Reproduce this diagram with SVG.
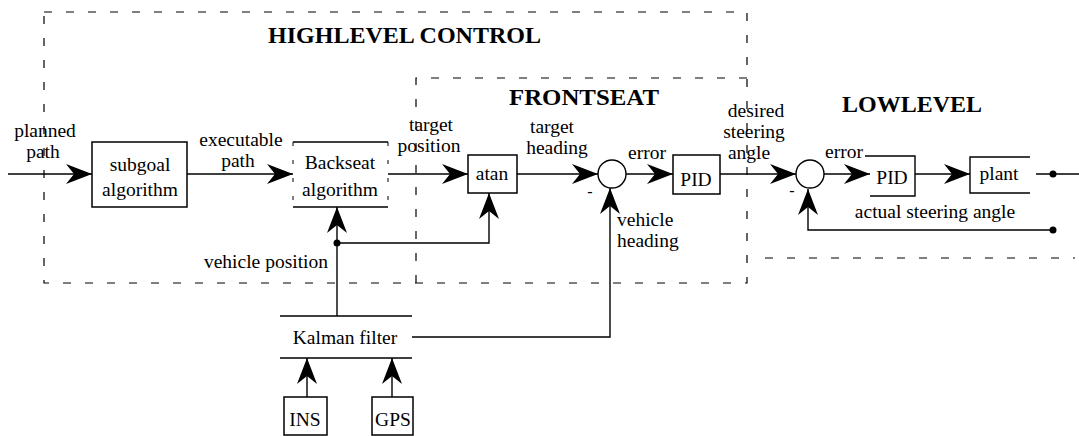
<svg xmlns="http://www.w3.org/2000/svg" width="1079" height="436" viewBox="0 0 1079 436">
<style>
.t{font-family:"Liberation Serif","Times New Roman",serif;font-size:19.5px;fill:#000;text-anchor:middle}
.ts{text-anchor:start}
.te{text-anchor:end}
.h{font-family:"Liberation Serif","Times New Roman",serif;font-size:23px;font-weight:bold;fill:#000}
.ln{fill:none;stroke:#000;stroke-width:1.4}
.bx{fill:#fff;stroke:#000;stroke-width:1.5}
.dash{fill:none;stroke:#000;stroke-width:1.2;stroke-dasharray:8 14}
.sd{fill:none;stroke:#000;stroke-width:1;stroke-dasharray:4 14}
</style>
<defs>
<marker id="arr" viewBox="0 0 26 20" refX="26" refY="10" markerWidth="26" markerHeight="20" markerUnits="userSpaceOnUse" orient="auto">
<path d="M0,0 L26,10 L0,20 L8,10 Z" fill="#000"/>
</marker>
</defs>
<rect width="1079" height="436" fill="#fff"/>

<g id="regions">
<path class="dash" d="M44,12 H747 V283 H44 Z"/>
<path class="dash" d="M416,283 V78 H747"/>
<path class="dash" d="M765,258 H1075"/>
<text class="h" x="268" y="43" textLength="273" lengthAdjust="spacingAndGlyphs">HIGHLEVEL CONTROL</text>
<text class="h" x="509" y="105" textLength="150" lengthAdjust="spacingAndGlyphs">FRONTSEAT</text>
<text class="h" x="842" y="112" textLength="140" lengthAdjust="spacingAndGlyphs">LOWLEVEL</text>
</g>

<g id="connectors">
<path class="ln" d="M8,174 H92" marker-end="url(#arr)"/>
<path class="ln" d="M187,174 H293" marker-end="url(#arr)"/>
<path class="ln" d="M388,174 H468" marker-end="url(#arr)"/>
<path class="ln" d="M517,174 H598" marker-end="url(#arr)"/>
<path class="ln" d="M626,174 H673" marker-end="url(#arr)"/>
<path class="ln" d="M720,174 H796" marker-end="url(#arr)"/>
<path class="ln" d="M824,174 H870" marker-end="url(#arr)"/>
<path class="ln" d="M915,174 H970" marker-end="url(#arr)"/>
<path class="ln" d="M1036,174 H1079"/>
<path class="ln" d="M337,316 V207" marker-end="url(#arr)"/>
<path class="ln" d="M337,243 H489 V193" marker-end="url(#arr)"/>
<path class="ln" d="M412,337 H610 V188" marker-end="url(#arr)"/>
<path class="ln" d="M1053,230 H808 V189" marker-end="url(#arr)"/>
<path class="ln" d="M307,397 V358" marker-end="url(#arr)"/>
<path class="ln" d="M392,397 V358" marker-end="url(#arr)"/>
<circle cx="337" cy="243" r="3.5" fill="#000"/>
<circle cx="1053" cy="174" r="3.5" fill="#000"/>
<circle cx="1053" cy="230" r="3.5" fill="#000"/>
<text class="t" x="45" y="137">planned</text>
<text class="t" x="43" y="158">path</text>
<text class="t" x="241" y="146">executable</text>
<text class="t" x="238" y="167">path</text>
<text class="t" x="431" y="131">target</text>
<text class="t" x="429" y="152">position</text>
<text class="t" x="552" y="133">target</text>
<text class="t" x="557" y="154">heading</text>
<text class="t" x="647" y="159">error</text>
<text class="t" x="756" y="117">desired</text>
<text class="t" x="754" y="138">steering</text>
<text class="t" x="749" y="159">angle</text>
<text class="t" x="844" y="158">error</text>
<text class="t" x="935" y="218">actual steering angle</text>
<text class="t ts" x="617" y="226">vehicle</text>
<text class="t ts" x="617" y="247">heading</text>
<text class="t te" x="328" y="268">vehicle position</text>
</g>

<g id="subgoal">
<rect class="bx" x="92" y="142" width="95" height="65"/>
<text class="t" x="140" y="171">subgoal</text>
<text class="t" x="140" y="196">algorithm</text>
</g>

<g id="backseat">
<path class="ln" d="M293,142 H388 M293,207 H388"/>
<path class="sd" d="M293,142 V207 M388,142 V207"/>
<text class="t" x="340" y="169">Backseat</text>
<text class="t" x="340" y="196">algorithm</text>
</g>

<g id="atan">
<rect class="bx" x="468" y="155" width="49" height="38"/>
<text class="t" x="492" y="180">atan</text>
</g>

<g id="sum1">
<circle cx="612" cy="174" r="14" fill="#fff" stroke="#000" stroke-width="1.4"/>
<text class="t" x="590" y="197" style="font-size:16px">-</text>
</g>

<g id="pid1">
<rect class="bx" x="673" y="155" width="47" height="39"/>
<text class="t" x="696" y="186">PID</text>
</g>

<g id="sum2">
<circle cx="810" cy="174" r="14" fill="#fff" stroke="#000" stroke-width="1.4"/>
<text class="t" x="792" y="196" style="font-size:16px">-</text>
</g>

<g id="pid2">
<path class="ln" d="M865,156 H915 V196 H870"/>
<text class="t" x="892" y="184">PID</text>
</g>

<g id="plant">
<path class="ln" d="M1030,157 H970 V193 H1030"/>
<text class="t" x="999" y="180">plant</text>
</g>

<g id="kalman">
<path class="ln" d="M280,316 H412 M280,358 H412"/>
<text class="t" x="345" y="344">Kalman filter</text>
</g>

<g id="ins">
<rect class="bx" x="284" y="397" width="43" height="38"/>
<text class="t" x="305" y="426">INS</text>
</g>

<g id="gps">
<rect class="bx" x="372" y="397" width="41" height="38"/>
<text class="t" x="393" y="426">GPS</text>
</g>
</svg>
